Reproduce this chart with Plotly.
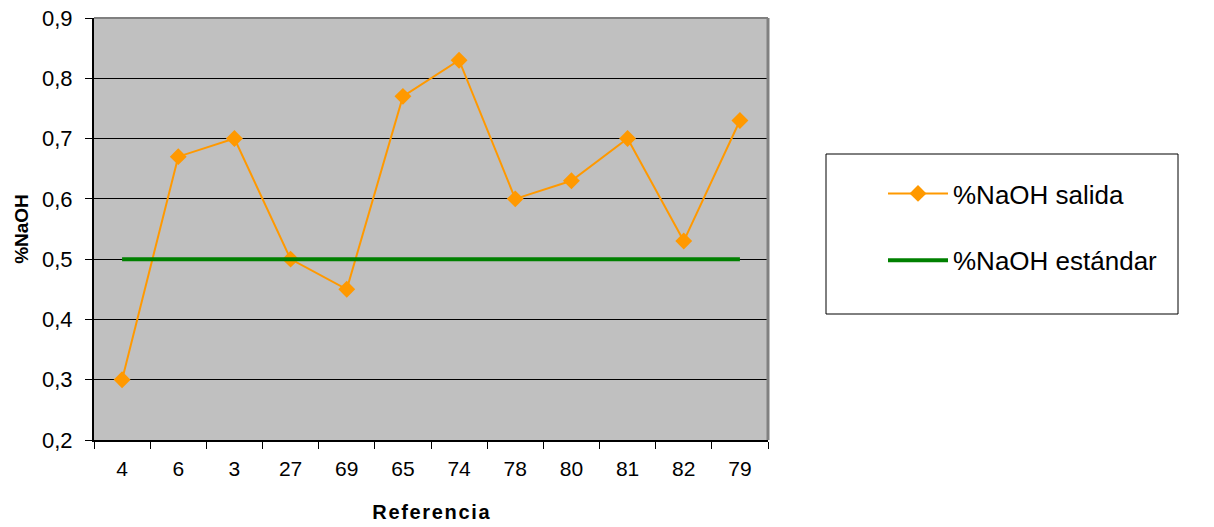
import plotly.graph_objects as go

categories = ["4", "6", "3", "27", "69", "65", "74", "78", "80", "81", "82", "79"]
salida = [0.30, 0.67, 0.70, 0.50, 0.45, 0.77, 0.83, 0.60, 0.63, 0.70, 0.53, 0.73]
estandar = [0.5] * 12
y_ticks = [0.2, 0.3, 0.4, 0.5, 0.6, 0.7, 0.8, 0.9]
y_ticktext = ["0,2", "0,3", "0,4", "0,5", "0,6", "0,7", "0,8", "0,9"]

FONT = "Liberation Sans, Arial, sans-serif"

fig = go.Figure()
fig.add_trace(go.Scatter(
    x=categories, y=salida, name="%NaOH salida", mode="lines+markers",
    line=dict(color="#FF9900", width=2),
    marker=dict(symbol="diamond", size=13, color="#FF9900"),
    legendgroup="a",
))
fig.add_trace(go.Scatter(
    x=categories, y=estandar, name="%NaOH estándar", mode="lines",
    line=dict(color="#008000", width=4),
    legendgroup="b",
))

L, R, T, B = 94, 446, 18, 87
W, H = 1214, 527
pw, ph = W - L - R, H - T - B

hs = "\u200a"
xtitle = hs.join("Referencia")

fig.update_layout(
    width=W, height=H,
    margin=dict(l=L, r=R, t=T, b=B),
    paper_bgcolor="white",
    plot_bgcolor="#C0C0C0",
    font=dict(family=FONT, color="black", size=20),
    showlegend=True,
    legend=dict(
        x=(883 - L) / pw, y=(440 - 170) / ph, xanchor="left", yanchor="top",
        bgcolor="rgba(0,0,0,0)", font=dict(size=26, family=FONT),
        tracegroupgap=30, traceorder="grouped", itemwidth=60,
    ),
    xaxis=dict(
        type="category", tickson="boundaries", ticks="outside", ticklen=7,
        tickcolor="black", showline=True, linecolor="black", linewidth=2,
        showgrid=False, tickfont=dict(size=21), ticklabelstandoff=9,
        title=dict(text="<b>" + xtitle + "</b>", font=dict(size=20), standoff=26),
        range=[-0.5, 11.5], mirror=False, automargin=False,
    ),
    yaxis=dict(
        range=[0.2, 0.9], tickvals=y_ticks, ticktext=y_ticktext,
        ticks="outside", ticklen=7, tickcolor="black",
        showline=True, linecolor="black", linewidth=2,
        showgrid=True, gridcolor="black", gridwidth=1,
        tickfont=dict(size=22), zeroline=False, ticklabelstandoff=8,
        title=dict(text="<b>%NaOH</b>", font=dict(size=19), standoff=8),
        automargin=False,
    ),
    shapes=[
        dict(type="line", xref="paper", yref="paper", x0=0, x1=1, y0=1, y1=1,
             line=dict(color="#808080", width=2)),
        dict(type="line", xref="paper", yref="paper", x0=1, x1=1, y0=0, y1=1,
             line=dict(color="#808080", width=3)),
        dict(type="rect", xref="paper", yref="paper",
             x0=(826 - L) / pw, x1=(1178 - L) / pw,
             y0=(440 - 314) / ph, y1=(440 - 154) / ph,
             line=dict(color="black", width=1)),
    ],
)

fig.write_html(
    "out.html",
    config={"displayModeBar": False},
    post_script="document.body.style.margin='0';document.body.style.overflow='hidden';",
)
